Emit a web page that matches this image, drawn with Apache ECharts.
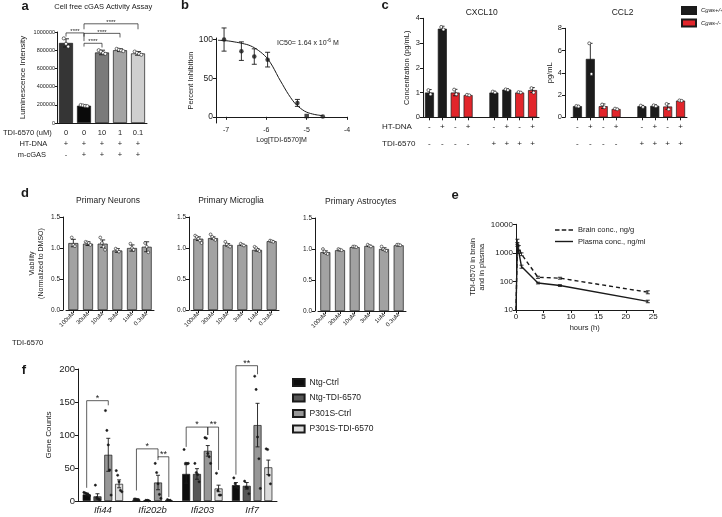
<!DOCTYPE html>
<html lang="en">
<head>
  <meta charset="utf-8">
</head>
<body style="margin: 0">
  <div id="container" style="width: 722px; height: 517px"></div>
  <script type="text/javascript" src="https://fastly.jsdelivr.net/npm/echarts@6/dist/echarts.min.js"></script>
  <script type="text/javascript">
    // ---- a: cell free cGAS activity assay
    const aTdi = ['0', '0', '10', '1', '0.1'];
    const aHtDna = ['+', '+', '+', '+', '+'];
    const aCgas = ['-', '+', '+', '+', '+'];
    const aMean = [880000, 190000, 775000, 800000, 765000];
    const aErr = [45000, 6000, 25000, 15000, 20000];
    const aDots = [[930000, 870000, 840000], [198000, 193000, 188000, 185000], [800000, 785000, 770000, 760000],
      [815000, 805000, 798000, 790000], [785000, 772000, 760000, 750000]];
    // [bar1, bar2, level, leftEnd, rightEnd, text]
    const aSig = [[0, 1, 990000, 950000, 900000, '****'], [1, 4, 1090000, 1030000, 1030000, '****'],
      [1, 3, 985000, 950000, 940000, '****'], [1, 2, 876000, 840000, 830000, '****']];

    // ---- b: dose response
    const bLogDose = [-7.05, -6.62, -6.3, -5.97, -5.23, -5.0, -4.6];
    const bInhib = [100, 85, 78, 74, 18, 1, 0.5];
    const bErr = [15, 12, 10, 9.5, 4.5, 0, 0];
    const bFitX = [-7.2, -7.0, -6.8, -6.6, -6.4, -6.2, -6.0, -5.9, -5.8, -5.7, -5.6, -5.5, -5.4, -5.3, -5.2, -5.1, -5.0, -4.8, -4.6];
    const bFitY = [99, 98.5, 97, 95, 92, 86, 77, 70, 61, 51, 42, 33, 25, 18, 13, 9, 6, 3, 1.5];
    const bTicksX = [-7, -6, -5, -4];
    const bTicksY = [0, 50, 100];

    // ---- c: CXCL10 / CCL2
    const cHtDna = ['-', '+', '-', '+', '', '-', '+', '-', '+'];
    const cTdi = ['-', '-', '-', '-', '', '+', '+', '+', '+'];
    const cGenotype = ['Cgas+/+', 'Cgas+/+', 'Cgas-/-', 'Cgas-/-', '', 'Cgas+/+', 'Cgas+/+', 'Cgas-/-', 'Cgas-/-'];
    const cxcl10Mean = [1.0, 3.58, 1.0, 0.9, null, 1.0, 1.12, 1.0, 1.1];
    const cxcl10Err = [0.12, 0.1, 0.13, 0.02, null, 0.05, 0.03, 0.03, 0.1];
    const cxcl10Dots = [[1.1, 0.93], [3.65, 3.55], [1.12, 0.93], [0.91, 0.89], null, [1.04, 1.0], [1.13, 1.1], [1.02, 1.0], [1.18, 1.0]];
    const ccl2Mean = [1.0, 5.25, 1.0, 0.75, null, 1.0, 1.03, 0.97, 1.5];
    const ccl2Err = [0.05, 1.4, 0.2, 0.05, null, 0.07, 0.08, 0.25, 0.03];
    const ccl2Dots = [[1.02, 0.98], [6.65, 3.9], [1.15, 0.9], [0.78, 0.72], null, [1.05, 0.93], [1.08, 1.0], [1.2, 0.72], [1.52, 1.48]];

    // ---- d: viability
    const dDoses = ['100uM', '30uM', '10uM', '3uM', '1uM', '0.3uM'];
    const neuronMean = [1.08, 1.07, 1.07, 0.96, 1.0, 1.02];
    const neuronErr = [0.06, 0.03, 0.06, 0.03, 0.05, 0.08];
    const neuronDots = [[1.17, 1.05, 1.03], [1.1, 1.09, 1.08, 1.05], [1.17, 1.08, 1.02, 0.97], [0.99, 0.97, 0.94], [1.07, 1.0, 0.97], [1.08, 1.02, 0.93]];
    const microgliaMean = [1.15, 1.16, 1.05, 1.05, 0.97, 1.11];
    const microgliaErr = [0.03, 0.02, 0.02, 0.01, 0.02, 0.01];
    const microgliaDots = [[1.2, 1.18, 1.15, 1.12, 1.08], [1.22, 1.18, 1.15, 1.13], [1.1, 1.06, 1.03, 1.02], [1.07, 1.05, 1.04], [1.02, 1.0, 0.97, 0.95], [1.12, 1.11, 1.1]];
    const astroMean = [0.95, 0.98, 1.03, 1.05, 1.0, 1.06];
    const astroErr = [0.02, 0.01, 0.01, 0.01, 0.02, 0.01];
    const astroDots = [[1.0, 0.96, 0.93, 0.92], [1.0, 0.99, 0.98], [1.04, 1.04, 1.03], [1.07, 1.05, 1.04], [1.04, 1.0, 0.98, 0.97], [1.07, 1.07, 1.06]];

    // ---- e: PK
    const eHours = [0, 0.25, 0.5, 1, 4, 8, 24];
    const brainConc = [10, 2500, 1500, 900, 140, 130, 42];
    const brainErr = [0, 500, 300, 100, 12, 10, 5];
    const plasmaConc = [10, 2000, 1100, 330, 88, 72, 20];
    const plasmaErr = [0, 300, 150, 40, 6, 5, 2];

    // ---- f: gene counts
    const fGenes = ['Ifi44', 'Ifi202b', 'Ifi203', 'Irf7'];
    const fGroups = ['Ntg-Ctrl', 'Ntg-TDI-6570', 'P301S-Ctrl', 'P301S-TDI-6570'];
    const fMean = [[10, 2, 41, 24], [7, 1, 41, 23], [70, 28, 76, 115], [26, 1, 19, 51]];
    const fErr = [[2, 1, 14, 4], [4, 0.5, 8, 5], [25, 11, 8, 33], [6, 0.5, 5, 11]];
    const fDots = [
      [[13, 12, 11, 10, 8], [3, 3, 2, 2], [78, 57, 57, 57], [35, 26, 22, 20]],
      [[24, 5, 3, 2], [1, 1, 0.5], [57, 43, 40, 29], [30, 21, 20, 11]],
      [[137, 107, 85, 47, 9], [57, 43, 26, 10, 4], [96, 95, 72, 67, 57], [189, 169, 97, 64, 19]],
      [[46, 39, 29, 16, 14], [2, 1, 1], [42, 16, 9, 9], [79, 78, 39, 26]]
    ];
    // [gene, group1, group2, level, leftEnd, rightEnd, text]
    const fSig = [[0, 0, 2, 152, 20, 145, '*'], [1, 0, 2, 79, 16, 66, '*'], [1, 2, 3, 67, 62, 6, '**'],
      [2, 0, 2, 112, 82, 100, '*'], [2, 2, 3, 112, 100, 47, '**'], [3, 0, 2, 205, 40, 192, '**']];

    const FONT = 'Liberation Sans, Arial, sans-serif';
    const INK = '#1a1a1a';
    const RED = '#e2252b';
    const F_STEP = 10.8; // bar pitch inside a gene group in panel f
    const plain = function (v) { return String(v); };
    const SOLID_ICON = 'path://M0,0H18V1.4H0Z';
    const DASH_ICON = 'path://M0,0H4.5V1.4H0Z M6.75,0H11.25V1.4H6.75Z M13.5,0H18V1.4H13.5Z';

    function axis(extra) {
      const base = {
        axisLine: { show: true, lineStyle: { color: INK, width: 1 } },
        axisTick: { show: true, length: 3, lineStyle: { color: INK, width: 1 } },
        axisLabel: { color: INK, fontSize: 7.5, margin: 3 },
        splitLine: { show: false },
        nameTextStyle: { color: INK, fontSize: 7.5 }
      };
      for (const k in extra) {
        base[k] = (base[k] && typeof extra[k] === 'object' && !Array.isArray(extra[k]))
          ? Object.assign({}, base[k], extra[k]) : extra[k];
      }
      return base;
    }

    function errorSeries(ai, rows, cap) {
      return {
        type: 'custom', xAxisIndex: ai, yAxisIndex: ai, silent: true, z: 5,
        encode: { x: 0, y: 1 },
        data: rows,
        renderItem: function (params, api) {
          const m = api.value(1), e = api.value(2);
          if (isNaN(m) || !e) return null;
          const hi = api.coord([api.value(0), m + e]);
          const lo = api.coord([api.value(0), m - e]);
          const x = hi[0] + (api.value(3) || 0);
          const st = { stroke: INK, lineWidth: 0.9 };
          return {
            type: 'group', children: [
              { type: 'line', shape: { x1: x, y1: hi[1], x2: x, y2: lo[1] }, style: st },
              { type: 'line', shape: { x1: x - cap, y1: hi[1], x2: x + cap, y2: hi[1] }, style: st },
              { type: 'line', shape: { x1: x - cap, y1: lo[1], x2: x + cap, y2: lo[1] }, style: st }
            ]
          };
        }
      };
    }

    function dotSeries(ai, rows, r, fill) {
      return {
        type: 'custom', xAxisIndex: ai, yAxisIndex: ai, silent: true, z: 6,
        encode: { x: 0, y: 1 },
        data: rows,
        renderItem: function (params, api) {
          const p = api.coord([api.value(0), api.value(1)]);
          return {
            type: 'circle', shape: { cx: p[0] + api.value(2), cy: p[1], r: r },
            style: { fill: fill, stroke: INK, lineWidth: 0.6 }
          };
        }
      };
    }

    function bracketSeries(ai, list, pxOf, fontSize) {
      return {
        type: 'custom', xAxisIndex: ai, yAxisIndex: ai, silent: true, z: 7,
        data: list.map(function (b, i) { return [i, b[b.length - 4]]; }),
        renderItem: function (params, api) {
          const b = list[params.dataIndex];
          const t = b.slice(-4);
          const xs = pxOf(api, b);
          const y = api.coord([0, t[0]])[1];
          const yl = api.coord([0, t[1]])[1];
          const yr = api.coord([0, t[2]])[1];
          return {
            type: 'group', children: [
              { type: 'polyline', shape: { points: [[xs[0], yl], [xs[0], y], [xs[1], y], [xs[1], yr]] },
                style: { stroke: INK, lineWidth: 0.7, fill: null } },
              { type: 'text', x: (xs[0] + xs[1]) / 2, y: y + fontSize * 0.25,
                style: { text: t[3], fontSize: fontSize, fontFamily: FONT, fill: INK, align: 'center', verticalAlign: 'bottom' } }
            ]
          };
        }
      };
    }

    function meanRows(mean, err) {
      const rows = [];
      mean.forEach(function (m, i) { if (m != null) rows.push([i, m, err[i], 0]); });
      return rows;
    }

    function dotRows(dots, spread) {
      const rows = [];
      dots.forEach(function (list, i) {
        if (!list) return;
        list.forEach(function (v, k) { rows.push([i, v, (k - (list.length - 1) / 2) * spread]); });
      });
      return rows;
    }

    function label(x, y, text, size, extra) {
      return {
        type: 'text', x: x, y: y, silent: true,
        style: Object.assign({ text: text, fontSize: size, fontFamily: FONT, fill: INK, align: 'left', verticalAlign: 'middle' }, extra || {})
      };
    }

    const grids = [
      { left: 57, top: 32, width: 90, height: 91 },       // a
      { left: 216, top: 38, width: 131, height: 85 },     // b
      { left: 423, top: 18.3, width: 116, height: 99 },   // c CXCL10
      { left: 571, top: 28.3, width: 116, height: 89 },   // c CCL2
      { left: 66, top: 217, width: 88, height: 93 },      // d neurons
      { left: 191, top: 217, width: 88, height: 93 },     // d microglia
      { left: 318, top: 218, width: 88, height: 93 },     // d astrocytes
      { left: 516, top: 224.3, width: 137.3, height: 85.7 }, // e
      { left: 78, top: 369, width: 199, height: 132 }     // f
    ];

    const cLabel = {
      interval: 0, fontSize: 8, lineHeight: 17, margin: 1,
      formatter: function (v, i) { return cHtDna[i] === '' ? '' : cHtDna[i] + '\n' + cTdi[i]; }
    };
    const cTick = { alignWithLabel: true, interval: function (i) { return cTdi[i] !== ''; } };
    const dLabel = { interval: 0, rotate: 45, fontSize: 6, margin: 3 };
    const dY = { min: 0, max: 1.5, interval: 0.5, axisLabel: { fontSize: 6.5, formatter: function (v) { return v.toFixed(1); } } };

    const xAxes = [
      axis({ gridIndex: 0, type: 'category', data: aTdi.map(function (_, i) { return 'a' + i; }), axisTick: { show: false },
        axisLabel: { interval: 0, fontSize: 7.5, lineHeight: 11.2, margin: 4,
          formatter: function (v, i) { return aTdi[i] + '\n' + aHtDna[i] + '\n' + aCgas[i]; } } }),
      axis({ gridIndex: 1, type: 'value', min: -7.25, max: -4,
        axisLabel: { customValues: bTicksX, fontSize: 7, margin: 4 }, axisTick: { customValues: bTicksX },
        name: 'Log[TDI-6570]M', nameLocation: 'middle', nameGap: 14, nameTextStyle: { fontSize: 7 } }),
      axis({ gridIndex: 2, type: 'category', data: cHtDna.map(function (_, i) { return 'c' + i; }), axisTick: cTick, axisLabel: cLabel }),
      axis({ gridIndex: 3, type: 'category', data: cHtDna.map(function (_, i) { return 'c' + i; }), axisTick: cTick, axisLabel: cLabel }),
      axis({ gridIndex: 4, type: 'category', data: dDoses, axisTick: { alignWithLabel: true }, axisLabel: dLabel }),
      axis({ gridIndex: 5, type: 'category', data: dDoses, axisTick: { alignWithLabel: true }, axisLabel: dLabel }),
      axis({ gridIndex: 6, type: 'category', data: dDoses, axisTick: { alignWithLabel: true }, axisLabel: dLabel }),
      axis({ gridIndex: 7, type: 'value', min: 0, max: 25, interval: 5, axisLabel: { fontSize: 8 },
        name: 'hours (h)', nameLocation: 'middle', nameGap: 14, nameTextStyle: { fontSize: 7.5 } }),
      axis({ gridIndex: 8, type: 'category', data: fGenes, axisTick: { show: false },
        axisLabel: { fontSize: 9.5, fontStyle: 'italic', margin: 4 } })
    ];

    const yAxes = [
      axis({ gridIndex: 0, type: 'value', min: 0, max: 1000000, interval: 200000, axisTick: { length: 2 },
        axisLabel: { fontSize: 5.5, margin: 2, formatter: plain },
        name: 'Luminescence Intensity', nameLocation: 'middle', nameGap: 30, nameTextStyle: { fontSize: 8 } }),
      axis({ gridIndex: 1, type: 'value', min: -8, max: 102,
        axisLabel: { customValues: bTicksY, fontSize: 8.5 }, axisTick: { customValues: bTicksY },
        name: 'Percent Inhibition', nameLocation: 'middle', nameGap: 20 }),
      axis({ gridIndex: 2, type: 'value', min: 0, max: 4, interval: 1,
        name: 'Concentration (pg/mL)', nameLocation: 'middle', nameGap: 12 }),
      axis({ gridIndex: 3, type: 'value', min: 0, max: 8, interval: 2, offset: 6,
        name: 'pg/mL', nameLocation: 'middle', nameGap: 10 }),
      axis(Object.assign({ gridIndex: 4, type: 'value', name: 'Viability\n(Normalized to DMSO)', nameLocation: 'middle', nameGap: 17,
        nameTextStyle: { fontSize: 7, lineHeight: 9 }, offset: 3 }, dY)),
      axis(Object.assign({ gridIndex: 5, type: 'value', offset: 2 }, dY)),
      axis(Object.assign({ gridIndex: 6, type: 'value', offset: 3 }, dY)),
      axis({ gridIndex: 7, type: 'log', logBase: 10, min: 10, max: 10000, axisLabel: { fontSize: 8, formatter: plain },
        name: 'TDI-6570 in brain\nand in plasma', nameLocation: 'middle', nameGap: 22,
        nameTextStyle: { fontSize: 7.5, lineHeight: 9 } }),
      axis({ gridIndex: 8, type: 'value', min: 0, max: 200, interval: 50, axisLabel: { fontSize: 9.5 },
        name: 'Gene Counts', nameLocation: 'middle', nameGap: 25, nameTextStyle: { fontSize: 8 } })
    ];

    const aColors = ['#353535', '#0a0a0a', '#7a7a7a', '#a4a4a4', '#cfcfcf'];
    const fColors = ['#0d0d0d', '#575757', '#979797', '#dcdcdc'];
    const border = { borderColor: INK, borderWidth: 0.7 };

    const series = [];

    // a
    series.push({
      type: 'bar', xAxisIndex: 0, yAxisIndex: 0, barWidth: 14,
      data: aMean.map(function (v, i) { return { value: v, itemStyle: Object.assign({ color: aColors[i] }, border) }; })
    });
    series.push(errorSeries(0, meanRows(aMean, aErr), 3));
    series.push(dotSeries(0, dotRows(aDots, 2.2), 1.6, '#ffffff'));
    series.push(bracketSeries(0, aSig, function (api, b) {
      return [api.coord([b[0], 0])[0], api.coord([b[1], 0])[0]];
    }, 6));

    // b
    series.push({
      type: 'line', xAxisIndex: 1, yAxisIndex: 1, symbol: 'none', smooth: 0.4,
      lineStyle: { color: INK, width: 1 },
      data: bFitX.map(function (x, i) { return [x, bFitY[i]]; })
    });
    series.push({
      type: 'scatter', xAxisIndex: 1, yAxisIndex: 1, symbolSize: 4.5, itemStyle: { color: INK }, z: 6,
      data: bLogDose.map(function (x, i) { return { value: [x, bInhib[i]], symbol: i === 5 ? 'rect' : 'circle' }; })
    });
    series.push(errorSeries(1, bLogDose.map(function (x, i) { return [x, bInhib[i], bErr[i], 0]; }), 2.5));

    // c
    [[2, cxcl10Mean, cxcl10Err, cxcl10Dots], [3, ccl2Mean, ccl2Err, ccl2Dots]].forEach(function (c) {
      ['Cgas+/+', 'Cgas-/-'].forEach(function (g, gi) {
        series.push({
          name: g, type: 'bar', xAxisIndex: c[0], yAxisIndex: c[0], barWidth: 9, barGap: '-100%',
          itemStyle: Object.assign({ color: gi === 0 ? '#1c1c1c' : RED }, border),
          data: c[1].map(function (v, i) { return cGenotype[i] === g ? v : '-'; })
        });
      });
      series.push(errorSeries(c[0], meanRows(c[1], c[2]), 2.2));
      series.push(dotSeries(c[0], dotRows(c[3], 2.2), 1.5, '#ffffff'));
    });

    // d
    [[4, neuronMean, neuronErr, neuronDots], [5, microgliaMean, microgliaErr, microgliaDots],
      [6, astroMean, astroErr, astroDots]].forEach(function (d) {
      series.push({
        type: 'bar', xAxisIndex: d[0], yAxisIndex: d[0], barWidth: 10,
        itemStyle: Object.assign({ color: '#a2a2a2' }, border), data: d[1]
      });
      series.push(errorSeries(d[0], meanRows(d[1], d[2]), 2.5));
      series.push(dotSeries(d[0], dotRows(d[3], 1.6), 1.4, '#ffffff'));
    });

    // e
    series.push({
      name: 'Brain conc., ng/g', type: 'line', xAxisIndex: 7, yAxisIndex: 7, symbol: 'none',
      lineStyle: { color: INK, width: 1.4, type: [4, 3] }, itemStyle: { color: INK },
      data: eHours.map(function (t, i) { return [t, brainConc[i]]; })
    });
    series.push({
      name: 'Plasma conc., ng/ml', type: 'line', xAxisIndex: 7, yAxisIndex: 7, symbol: 'none',
      lineStyle: { color: INK, width: 1.4 }, itemStyle: { color: INK },
      data: eHours.map(function (t, i) { return [t, plasmaConc[i]]; })
    });
    series.push(errorSeries(7, eHours.map(function (t, i) { return [t, brainConc[i], brainErr[i], 0]; }), 2));
    series.push(errorSeries(7, eHours.map(function (t, i) { return [t, plasmaConc[i], plasmaErr[i], 0]; }), 2));

    // f
    fGroups.forEach(function (g, s) {
      series.push({
        name: g, type: 'bar', xAxisIndex: 8, yAxisIndex: 8, barWidth: 8, barGap: '35%',
        itemStyle: Object.assign({ color: fColors[s] }, border), data: fMean[s]
      });
    });
    const fErrRows = [];
    const fDotRows = [];
    fGroups.forEach(function (g, s) {
      fGenes.forEach(function (gene, gi) {
        const shift = (s - 1.5) * F_STEP;
        fErrRows.push([gi, fMean[s][gi], fErr[s][gi], shift]);
        const list = fDots[s][gi];
        list.forEach(function (v, k) { fDotRows.push([gi, v, shift + (k - (list.length - 1) / 2) * 1.4]); });
      });
    });
    series.push(errorSeries(8, fErrRows, 2));
    series.push(dotSeries(8, fDotRows, 1.1, INK));
    series.push(bracketSeries(8, fSig, function (api, b) {
      const c = api.coord([b[0], 0])[0];
      return [c + (b[1] - 1.5) * F_STEP, c + (b[2] - 1.5) * F_STEP];
    }, 9));

    const letters = [['a', 25, 6], ['b', 185, 5], ['c', 385, 5], ['d', 25, 193], ['e', 455, 195], ['f', 24, 370]];

    const option = {
      animation: false,
      backgroundColor: '#ffffff',
      textStyle: { fontFamily: FONT, color: INK },
      grid: grids,
      xAxis: xAxes,
      yAxis: yAxes,
      legend: [
        { data: ['Cgas+/+', 'Cgas-/-'], orient: 'vertical', left: 681, top: 6, padding: 0, icon: 'rect',
          itemWidth: 14, itemHeight: 7, itemGap: 3.5, selectedMode: false,
          textStyle: { fontSize: 6, fontStyle: 'italic', color: INK } },
        { data: [{ name: 'Brain conc., ng/g', icon: DASH_ICON }, { name: 'Plasma conc., ng/ml', icon: SOLID_ICON }],
          orient: 'vertical', left: 555, top: 226, padding: 0,
          itemWidth: 18, itemHeight: 8, itemGap: 3.5, selectedMode: false,
          textStyle: { fontSize: 7.5, color: INK } },
        { data: fGroups, orient: 'vertical', left: 292, top: 378, padding: 0, icon: 'rect',
          itemWidth: 11.6, itemHeight: 7, itemGap: 6.5, selectedMode: false,
          textStyle: { fontSize: 8.5, color: INK } }
      ],
      graphic: letters.map(function (l) {
        return label(l[1], l[2], l[0], 13, { fontWeight: 'bold', align: 'center' });
      }).concat([
        label(103.3, 6.5, 'Cell free cGAS Activity Assay', 7.5, { align: 'center' }),
        label(51.7, 132.5, 'TDI-6570 (uM)', 7.5, { align: 'right' }),
        label(47.3, 143.7, 'HT-DNA', 7.5, { align: 'right' }),
        label(46, 155, 'm-cGAS', 7.5, { align: 'right' }),
        label(277, 43, '{n|IC50= 1.64 x 10}{s|-6}{n| M}', 7, {
          rich: { n: { fontSize: 7, fontFamily: FONT, fill: INK, lineHeight: 10 },
            s: { fontSize: 5, fontFamily: FONT, fill: INK, verticalAlign: 'top', lineHeight: 10 } } }),
        label(481.7, 12.7, 'CXCL10', 8.5, { align: 'center' }),
        label(622.5, 12.7, 'CCL2', 8.5, { align: 'center' }),
        label(382, 127, 'HT-DNA', 8),
        label(382, 144, 'TDI-6570', 8),
        label(108, 200.7, 'Primary Neurons', 8.5, { align: 'center' }),
        label(231, 200.5, 'Primary Microglia', 8.5, { align: 'center' }),
        label(360.7, 201.7, 'Primary Astrocytes', 8.5, { align: 'center' }),
        label(12, 343.3, 'TDI-6570', 7.5)
      ]),
      series: series
    };

    const chart = echarts.init(document.getElementById('container'), null, { renderer: 'canvas' });
    chart.setOption(option);
    window.addEventListener('resize', chart.resize);
  </script>
</body>
</html>
